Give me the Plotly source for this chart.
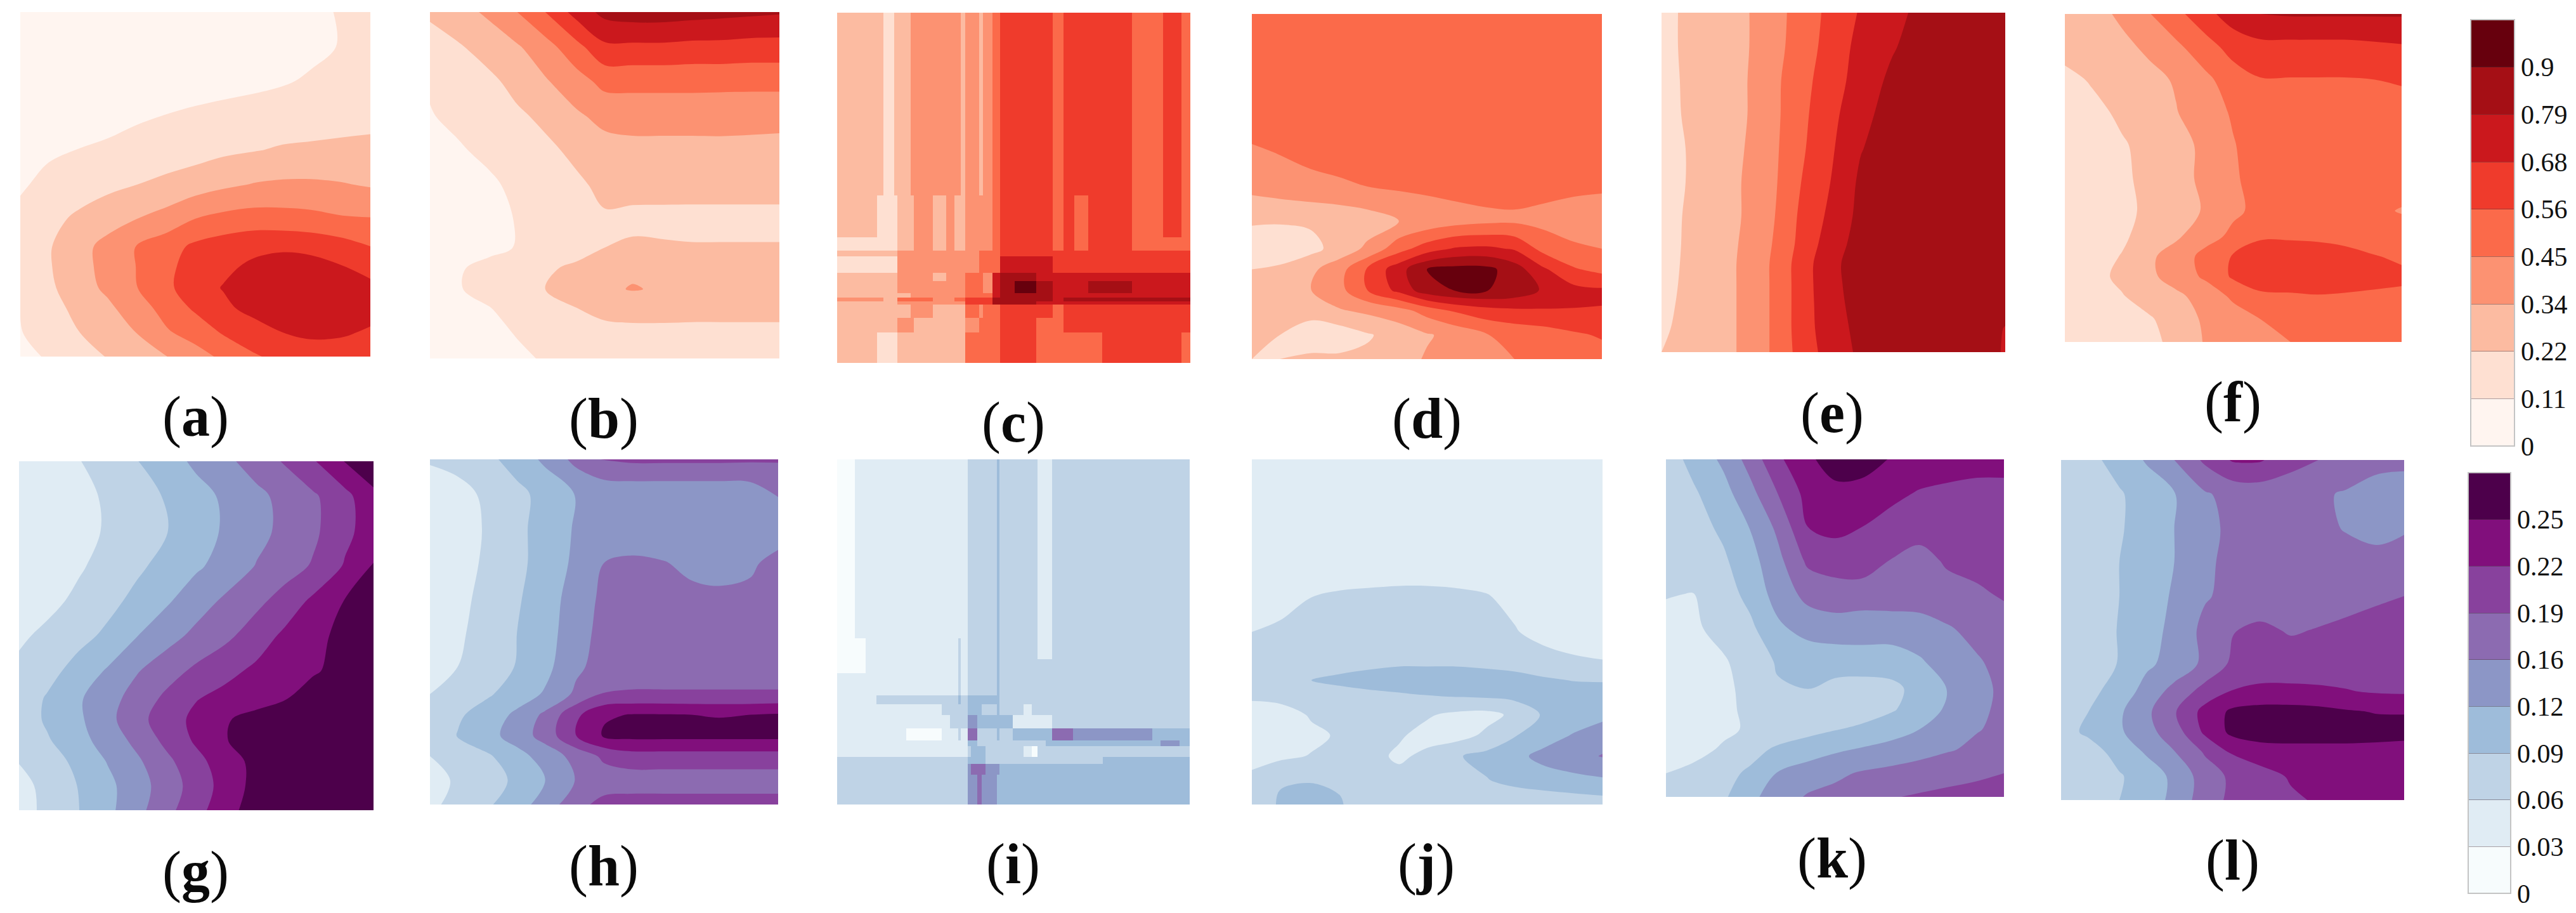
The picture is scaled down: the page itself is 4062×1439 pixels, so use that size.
import numpy as np
import plotly.graph_objects as go

# contour panels are stored in band units (1.0 = one colorbar step)
RED_STEP = 0.1125
BLUE_STEP = 0.03125
RED_COLORS = ['#fff5f0', '#fee0d2', '#fcbba1', '#fc9272', '#fb6a4a', '#ef3b2c', '#cb181d', '#a50f15', '#67000d']
BLUE_COLORS = ['#f7fcfd', '#e0ecf4', '#bfd3e6', '#9ebcda', '#8c96c6', '#8c6bb1', '#88419d', '#810f7c', '#4d004b']
RED_TICKS = ['0', '0.11', '0.22', '0.34', '0.45', '0.56', '0.68', '0.79', '0.9']
BLUE_TICKS = ['0', '0.03', '0.06', '0.09', '0.12', '0.16', '0.19', '0.22', '0.25']

XS = [0, .08, .17, .25, .33, .42, .5, .58, .67, .75, .83, .92, 1]
YS = [0, .1, .2, .3, .4, .5, .6, .68, .74, .8, .86, .93, 1]
YS_J = [0, .1, .2, .3, .4, .5, .6, .64, .68, .74, .8, .86, .93, 1]

PANEL_A = [
    [.3, .3, .3, .3, .3, .35, .4, .45, .5, .6, .75, 1.1, 1.4],
    [.3, .3, .3, .3, .35, .4, .45, .5, .55, .65, .8, 1.05, 1.4],
    [.3, .3, .35, .4, .45, .5, .6, .7, .8, .92, 1.1, 1.3, 1.5],
    [.35, .45, .55, .7, .88, 1.02, 1.15, 1.25, 1.35, 1.45, 1.55, 1.65, 1.7],
    [.7, .88, 1.02, 1.15, 1.3, 1.45, 1.6, 1.8, 1.95, 2.1, 2.15, 2.2, 2.25],
    [.9, 1.2, 1.5, 1.75, 1.98, 2.25, 2.5, 2.8, 3.05, 3.15, 3.15, 3.05, 2.9],
    [1.2, 1.7, 2.2, 2.6, 2.98, 3.4, 4.0, 4.3, 4.45, 4.4, 4.3, 4.1, 4.05],
    [1.3, 1.9, 2.7, 3.3, 4.0, 4.6, 5.2, 5.5, 5.75, 5.8, 5.7, 5.4, 5.0],
    [1.3, 1.9, 2.7, 3.3, 4.0, 4.8, 5.4, 5.8, 6.2, 6.5, 6.4, 6.05, 5.6],
    [1.2, 1.8, 2.6, 3.2, 3.95, 4.8, 5.6, 6.05, 6.5, 6.8, 6.8, 6.6, 6.3],
    [1.0, 1.6, 2.3, 2.8, 3.5, 4.4, 5.15, 5.8, 6.3, 6.5, 6.6, 6.5, 6.3],
    [.95, 1.5, 2.0, 2.5, 3.0, 3.9, 4.4, 5.1, 5.6, 6.0, 6.2, 6.1, 5.9],
    [.7, 1.1, 1.6, 2.05, 2.5, 3.0, 3.6, 4.2, 4.9, 5.3, 5.5, 5.6, 5.5],
]
PANEL_B = [
    [2.2, 2.6, 3.2, 4.0, 5.0, 6.4, 7.3, 7.5, 7.5, 7.4, 7.3, 7.2, 7.1],
    [1.5, 1.9, 2.4, 2.9, 3.6, 4.7, 5.8, 5.8, 5.8, 5.7, 5.7, 5.6, 5.6],
    [1.1, 1.3, 1.8, 2.3, 2.9, 3.6, 4.3, 4.3, 4.3, 4.3, 4.3, 4.3, 4.3],
    [.95, 1.2, 1.6, 1.85, 2.2, 2.85, 3.3, 3.4, 3.4, 3.4, 3.35, 3.3, 3.3],
    [.5, .9, 1.2, 1.5, 1.8, 2.2, 2.6, 2.7, 2.7, 2.7, 2.75, 2.75, 2.7],
    [.3, .5, .85, 1.2, 1.5, 1.85, 2.2, 2.4, 2.45, 2.5, 2.5, 2.5, 2.5],
    [.2, .4, .7, 1.05, 1.3, 1.5, 1.9, 1.7, 1.65, 1.6, 1.6, 1.6, 1.6],
    [.2, .35, .75, 1.05, 1.3, 1.6, 2.0, 2.2, 2.15, 2.1, 2.1, 2.1, 2.1],
    [.6, .9, 1.3, 1.55, 1.85, 2.2, 2.5, 2.85, 2.7, 2.6, 2.6, 2.6, 2.6],
    [.5, .95, 1.25, 1.6, 2.0, 2.4, 2.85, 3.05, 2.9, 2.7, 2.65, 2.6, 2.6],
    [.3, .55, .95, 1.3, 1.6, 1.95, 2.3, 2.4, 2.4, 2.4, 2.4, 2.4, 2.4],
    [.2, .4, .7, 1.05, 1.25, 1.45, 1.6, 1.65, 1.65, 1.6, 1.6, 1.6, 1.6],
    [.1, .3, .5, .8, 1.1, 1.2, 1.3, 1.3, 1.3, 1.3, 1.3, 1.3, 1.3],
]
PANEL_D = [
    [4.6, 4.6, 4.6, 4.6, 4.6, 4.6, 4.6, 4.6, 4.6, 4.6, 4.6, 4.6, 4.6],
    [4.6, 4.6, 4.6, 4.6, 4.6, 4.6, 4.6, 4.6, 4.6, 4.6, 4.6, 4.6, 4.6],
    [4.6, 4.6, 4.6, 4.6, 4.6, 4.6, 4.6, 4.6, 4.6, 4.6, 4.6, 4.6, 4.6],
    [4.5, 4.5, 4.5, 4.5, 4.5, 4.5, 4.5, 4.5, 4.5, 4.5, 4.5, 4.5, 4.5],
    [3.85, 4.05, 4.3, 4.4, 4.5, 4.5, 4.5, 4.5, 4.5, 4.5, 4.5, 4.5, 4.5],
    [3.3, 3.5, 3.7, 3.85, 4.0, 4.15, 4.25, 4.3, 4.3, 4.3, 4.3, 4.25, 4.2],
    [2.1, 2.1, 2.15, 2.25, 2.5, 3.0, 3.3, 3.6, 3.8, 3.85, 3.7, 3.4, 3.2],
    [1.5, 1.3, 1.7, 2.4, 3.2, 4.6, 5.5, 6.1, 6.2, 5.9, 4.7, 4.2, 4.0],
    [2.0, 2.2, 2.8, 3.6, 5.1, 6.6, 8.0, 8.35, 8.3, 7.5, 6.2, 5.1, 4.7],
    [2.2, 2.5, 3.0, 3.7, 5.0, 6.3, 7.6, 8.05, 8.05, 7.7, 6.9, 6.3, 6.15],
    [2.2, 2.2, 2.4, 2.9, 3.2, 3.6, 4.4, 5.1, 5.6, 5.8, 5.9, 5.95, 5.95],
    [2.3, 2.0, 1.4, 1.4, 1.9, 2.4, 2.9, 3.3, 3.95, 4.3, 4.5, 4.85, 5.1],
    [2.0, 2.0, 2.2, 2.2, 2.2, 2.6, 3.1, 3.3, 3.6, 4.0, 4.3, 4.5, 4.6],
]
PANEL_E = [
    [1.7, 2.2, 2.6, 2.95, 3.65, 4.55, 5.35, 6.1, 6.7, 7.2, 7.5, 7.7, 7.8],
    [1.7, 2.2, 2.6, 2.95, 3.7, 4.6, 5.5, 6.3, 6.9, 7.4, 7.6, 7.7, 7.8],
    [1.6, 2.2, 2.6, 3.0, 3.8, 4.8, 5.6, 6.45, 7.2, 7.5, 7.7, 7.8, 7.8],
    [1.5, 2.2, 2.6, 3.0, 3.8, 4.9, 5.8, 6.7, 7.4, 7.6, 7.7, 7.8, 7.8],
    [1.3, 2.1, 2.6, 3.05, 3.85, 5.0, 5.95, 6.95, 7.5, 7.7, 7.8, 7.8, 7.8],
    [1.3, 2.1, 2.65, 3.1, 3.9, 5.2, 6.1, 7.2, 7.5, 7.7, 7.8, 7.8, 7.8],
    [1.4, 2.2, 2.65, 3.1, 4.0, 5.4, 6.3, 7.3, 7.5, 7.7, 7.8, 7.8, 7.8],
    [1.5, 2.2, 2.7, 3.15, 4.1, 5.5, 6.6, 7.4, 7.6, 7.7, 7.8, 7.8, 7.7],
    [1.6, 2.2, 2.7, 3.2, 4.2, 5.7, 6.8, 7.5, 7.6, 7.7, 7.8, 7.8, 7.6],
    [1.7, 2.2, 2.7, 3.2, 4.2, 5.7, 6.8, 7.4, 7.6, 7.7, 7.8, 7.8, 7.5],
    [1.8, 2.2, 2.7, 3.2, 4.2, 5.7, 6.7, 7.4, 7.6, 7.7, 7.8, 7.7, 7.4],
    [1.9, 2.2, 2.7, 3.2, 4.2, 5.7, 6.6, 7.3, 7.6, 7.7, 7.7, 7.6, 6.95],
    [2.0, 2.2, 2.7, 3.2, 4.2, 5.6, 6.5, 7.2, 7.5, 7.6, 7.6, 7.5, 6.9],
]
PANEL_F = [
    [2.2, 2.6, 3.2, 3.95, 4.7, 5.7, 6.5, 7.0, 7.1, 7.1, 7.1, 7.1, 7.1],
    [2.4, 2.5, 2.75, 3.2, 3.8, 4.6, 5.4, 5.7, 5.7, 5.7, 5.7, 5.8, 5.9],
    [1.7, 2.1, 2.3, 2.7, 3.1, 3.8, 4.5, 4.95, 4.95, 4.95, 4.95, 5.0, 5.1],
    [1.4, 1.7, 2.2, 2.5, 2.95, 3.6, 4.1, 4.5, 4.6, 4.6, 4.6, 4.6, 4.6],
    [1.3, 1.5, 1.9, 2.3, 2.7, 3.2, 3.95, 4.4, 4.5, 4.5, 4.5, 4.5, 4.5],
    [1.2, 1.4, 1.8, 2.3, 2.7, 3.2, 3.9, 4.3, 4.3, 4.4, 4.4, 4.4, 4.4],
    [1.2, 1.4, 1.75, 2.2, 2.6, 3.1, 3.85, 4.2, 4.3, 4.3, 4.3, 4.15, 3.95],
    [1.2, 1.5, 1.85, 2.4, 2.85, 3.7, 4.2, 4.9, 4.9, 4.85, 4.75, 4.55, 4.35],
    [1.3, 1.6, 2.05, 2.8, 3.5, 4.3, 5.1, 5.5, 5.5, 5.45, 5.3, 5.05, 4.85],
    [1.4, 1.7, 2.2, 2.8, 3.4, 4.2, 5.15, 5.6, 5.7, 5.6, 5.5, 5.3, 5.2],
    [1.2, 1.5, 1.95, 2.4, 2.8, 3.4, 4.2, 4.8, 4.85, 4.95, 4.9, 4.85, 4.8],
    [1.1, 1.3, 1.5, 1.9, 2.4, 3.2, 3.5, 4.0, 4.4, 4.45, 4.45, 4.45, 4.45],
    [1.1, 1.2, 1.4, 1.7, 2.3, 3.1, 3.4, 3.7, 4.0, 4.2, 4.3, 4.3, 4.3],
]
PANEL_G = [
    [1.3, 1.6, 1.97, 2.4, 2.95, 3.6, 4.2, 4.75, 5.45, 6.1, 6.9, 8.05, 8.6],
    [1.2, 1.4, 1.7, 2.15, 2.6, 3.1, 3.65, 4.15, 4.75, 5.3, 5.85, 6.7, 7.8],
    [1.15, 1.4, 1.7, 2.1, 2.55, 3.0, 3.6, 4.1, 4.7, 5.25, 5.8, 6.75, 7.5],
    [1.25, 1.5, 1.9, 2.3, 2.8, 3.35, 3.85, 4.35, 5.05, 5.55, 6.1, 7.1, 8.05],
    [1.4, 1.75, 2.2, 2.7, 3.25, 3.9, 4.55, 5.15, 5.75, 6.4, 7.2, 8.05, 8.7],
    [1.85, 2.2, 2.7, 3.2, 3.95, 4.65, 5.25, 5.75, 6.5, 7.2, 7.75, 8.25, 8.6],
    [2.2, 2.65, 3.4, 4.1, 4.9, 5.6, 6.2, 6.7, 7.2, 7.55, 7.9, 8.3, 8.6],
    [2.4, 3.1, 3.9, 4.6, 5.4, 6.25, 6.95, 7.3, 7.6, 7.95, 8.4, 8.6, 8.7],
    [2.4, 3.15, 3.85, 4.7, 5.65, 6.55, 7.25, 7.9, 8.35, 8.6, 8.7, 8.7, 8.7],
    [2.2, 2.9, 3.7, 4.4, 5.25, 6.3, 7.15, 7.95, 8.4, 8.6, 8.7, 8.7, 8.7],
    [2.05, 2.5, 3.3, 4.05, 4.8, 5.8, 6.7, 7.5, 8.3, 8.55, 8.7, 8.7, 8.7],
    [1.6, 2.35, 3.05, 3.75, 4.55, 5.5, 6.45, 7.35, 8.35, 8.6, 8.7, 8.7, 8.7],
    [1.5, 2.3, 3.0, 3.75, 4.65, 5.75, 6.65, 7.6, 8.5, 8.7, 8.7, 8.7, 8.7],
]
PANEL_H = [
    [2.1, 2.3, 2.8, 3.4, 4.2, 5.3, 6.1, 6.2, 6.2, 6.2, 6.2, 6.15, 6.1],
    [1.5, 1.7, 2.2, 2.75, 3.3, 4.05, 4.25, 4.3, 4.3, 4.3, 4.3, 4.4, 5.05],
    [1.3, 1.5, 2.15, 2.75, 3.4, 4.1, 4.2, 4.45, 4.3, 4.3, 4.3, 4.3, 4.5],
    [1.4, 1.6, 2.2, 2.75, 3.4, 4.2, 5.0, 5.15, 5.05, 4.8, 4.7, 4.85, 5.3],
    [1.45, 1.75, 2.3, 2.9, 3.45, 4.5, 5.2, 5.3, 5.3, 5.2, 5.15, 5.2, 5.3],
    [1.5, 1.85, 2.4, 3.0, 3.6, 4.55, 5.35, 5.5, 5.5, 5.5, 5.5, 5.5, 5.5],
    [1.6, 2.0, 2.55, 3.05, 3.7, 4.8, 5.4, 5.5, 5.5, 5.5, 5.5, 5.5, 5.5],
    [2.0, 2.35, 2.9, 3.5, 4.1, 5.2, 6.05, 6.1, 6.1, 6.1, 6.1, 6.1, 6.1],
    [2.2, 2.85, 3.5, 4.2, 5.2, 6.8, 7.85, 8.05, 8.05, 8.0, 7.95, 8.0, 8.1],
    [2.4, 3.05, 3.7, 4.45, 5.4, 7.0, 8.15, 8.3, 8.3, 8.3, 8.3, 8.3, 8.3],
    [2.0, 2.4, 2.9, 3.65, 4.4, 5.35, 6.2, 6.6, 6.6, 6.6, 6.6, 6.6, 6.6],
    [1.6, 2.15, 2.6, 3.2, 3.95, 5.05, 5.5, 5.5, 5.5, 5.5, 5.5, 5.5, 5.5],
    [1.8, 2.3, 2.9, 3.6, 4.4, 5.7, 6.3, 6.4, 6.4, 6.4, 6.4, 6.4, 6.4],
]
PANEL_J = [
    [1.5, 1.5, 1.5, 1.5, 1.5, 1.5, 1.5, 1.5, 1.5, 1.5, 1.5, 1.5, 1.5],
    [1.5, 1.5, 1.5, 1.5, 1.5, 1.5, 1.5, 1.5, 1.5, 1.5, 1.5, 1.5, 1.5],
    [1.5, 1.5, 1.5, 1.5, 1.5, 1.5, 1.5, 1.5, 1.5, 1.5, 1.5, 1.5, 1.5],
    [1.6, 1.6, 1.6, 1.6, 1.6, 1.6, 1.6, 1.6, 1.6, 1.6, 1.6, 1.5, 1.5],
    [1.6, 1.8, 2.0, 2.1, 2.15, 2.2, 2.2, 2.15, 2.05, 1.8, 1.6, 1.5, 1.5],
    [2.0, 2.1, 2.3, 2.4, 2.4, 2.4, 2.4, 2.4, 2.3, 2.05, 1.75, 1.6, 1.6],
    [2.5, 2.6, 2.7, 2.75, 2.9, 3.0, 3.0, 3.0, 2.9, 2.7, 2.4, 2.2, 2.1],
    [2.4, 2.7, 3.0, 3.2, 3.3, 3.4, 3.5, 3.5, 3.5, 3.5, 3.2, 2.95, 2.9],
    [2.3, 2.4, 2.6, 2.7, 2.85, 2.95, 3.05, 3.2, 3.3, 3.4, 3.5, 3.6, 3.6],
    [1.4, 1.55, 2.1, 2.4, 2.5, 2.4, 2.1, 1.8, 1.7, 2.2, 3.1, 3.4, 3.7],
    [1.3, 1.4, 1.8, 2.1, 2.4, 2.1, 1.7, 1.6, 2.2, 2.95, 3.5, 4.1, 4.6],
    [1.6, 1.8, 2.05, 2.3, 2.3, 1.85, 2.2, 2.9, 3.3, 3.7, 4.3, 4.7, 5.05],
    [2.3, 2.9, 2.95, 2.85, 2.4, 2.3, 2.3, 2.5, 2.95, 3.3, 3.5, 3.7, 3.85],
    [2.1, 3.15, 3.4, 3.1, 2.4, 2.2, 2.1, 2.1, 2.1, 2.2, 2.3, 2.4, 2.5],
]
PANEL_K = [
    [2.5, 3.3, 4.2, 5.4, 6.8, 7.8, 8.5, 8.5, 7.9, 7.8, 7.7, 7.6, 7.6],
    [2.3, 2.85, 3.65, 4.7, 6.0, 7.35, 7.7, 7.6, 7.3, 6.9, 6.7, 6.5, 6.5],
    [2.2, 2.6, 3.2, 4.05, 5.2, 7.0, 7.3, 7.0, 6.5, 6.35, 6.2, 6.2, 6.2],
    [2.2, 2.5, 2.85, 3.65, 4.7, 6.2, 6.4, 6.5, 5.95, 5.7, 6.1, 6.3, 6.3],
    [2.05, 1.97, 2.55, 3.3, 4.4, 5.3, 5.6, 5.55, 5.6, 5.6, 5.7, 5.85, 6.1],
    [1.7, 1.85, 2.3, 2.8, 3.8, 4.4, 4.5, 4.4, 4.4, 4.5, 4.9, 5.3, 5.6],
    [1.5, 1.6, 1.9, 2.4, 3.1, 3.3, 3.45, 3.6, 3.6, 3.9, 4.35, 4.9, 5.3],
    [1.5, 1.55, 1.85, 2.2, 2.9, 3.0, 2.7, 2.5, 2.7, 3.4, 4.0, 4.7, 5.2],
    [1.5, 1.55, 1.85, 2.15, 2.3, 2.4, 2.5, 2.5, 2.9, 3.5, 4.1, 4.8, 5.2],
    [1.5, 1.55, 1.85, 2.1, 2.3, 2.7, 2.95, 3.2, 3.6, 4.0, 4.5, 4.95, 5.2],
    [1.6, 1.75, 2.1, 2.6, 3.2, 3.5, 3.85, 4.1, 4.35, 4.6, 4.9, 5.2, 5.4],
    [2.0, 2.2, 2.65, 3.2, 4.05, 4.5, 4.8, 5.1, 5.3, 5.5, 5.7, 5.85, 6.0],
    [2.2, 2.5, 2.85, 3.75, 4.5, 5.1, 5.3, 5.6, 5.95, 6.1, 6.2, 6.3, 6.4],
]
PANEL_L = [
    [2.3, 2.7, 3.4, 4.1, 5.0, 6.2, 7.1, 7.1, 6.4, 6.0, 5.7, 5.3, 5.2],
    [2.2, 2.5, 2.9, 3.45, 3.95, 4.9, 5.3, 5.4, 5.3, 5.15, 4.9, 4.6, 4.6],
    [2.2, 2.5, 2.9, 3.45, 4.0, 4.75, 5.2, 5.3, 5.3, 5.2, 4.95, 4.8, 4.95],
    [2.2, 2.5, 3.0, 3.5, 4.0, 4.8, 5.3, 5.4, 5.4, 5.4, 5.3, 5.2, 5.2],
    [2.2, 2.5, 3.0, 3.6, 4.1, 4.9, 5.3, 5.4, 5.5, 5.5, 5.5, 5.8, 6.0],
    [2.2, 2.5, 3.05, 3.7, 4.2, 5.3, 5.95, 6.2, 5.9, 6.05, 6.3, 6.5, 6.5],
    [2.2, 2.5, 3.05, 3.8, 4.4, 5.2, 6.2, 6.5, 6.5, 6.5, 6.5, 6.5, 6.5],
    [2.3, 2.8, 3.3, 4.45, 5.3, 6.4, 7.05, 7.2, 7.2, 7.15, 7.05, 6.9, 6.85],
    [2.5, 3.0, 3.85, 4.8, 5.9, 7.35, 8.2, 8.4, 8.4, 8.3, 8.1, 7.95, 7.95],
    [2.6, 3.2, 3.85, 4.7, 5.5, 7.2, 8.25, 8.5, 8.5, 8.5, 8.5, 8.4, 8.3],
    [2.2, 2.5, 3.4, 4.1, 4.95, 6.1, 7.1, 7.5, 7.6, 7.6, 7.6, 7.6, 7.6],
    [2.1, 2.4, 2.9, 3.5, 4.2, 5.5, 6.2, 6.6, 7.1, 7.2, 7.2, 7.2, 7.2],
    [2.1, 2.4, 3.0, 3.6, 4.2, 5.6, 6.2, 6.5, 6.85, 7.1, 7.2, 7.2, 7.2],
]

# c and i are blocky, kept as cell bands on uneven edges
C_X = [-35, 38, 50, 70, 75, 100, 105, 140, 165, 180, 192, 200, 225, 232, 250, 263, 290, 330, 360, 380, 400, 425, 450, 505, 545, 562, 596, 612]
C_Y = [44, 670, 815, 860, 880, 935, 965, 1005, 1020, 1035, 1045, 1090, 1140, 1245]
PANEL_C = [
    [2, 2, 1, 2, 2, 3, 3, 3, 3, 3, 2, 3, 2, 3, 4, 5, 5, 5, 4, 5, 5, 5, 5, 4, 4, 5, 4],
    [2, 1, 1, 1, 2, 2, 3, 2, 3, 2, 2, 3, 3, 3, 4, 5, 5, 5, 4, 5, 4, 5, 5, 4, 4, 5, 4],
    [1, 1, 1, 1, 2, 2, 3, 2, 3, 2, 2, 3, 3, 3, 4, 5, 5, 5, 4, 5, 4, 5, 5, 4, 4, 4, 4],
    [2, 2, 2, 2, 3, 3, 3, 3, 3, 3, 3, 3, 4, 4, 4, 5, 5, 5, 5, 5, 5, 5, 5, 5, 5, 5, 5],
    [1, 1, 1, 1, 3, 3, 3, 3, 3, 3, 3, 3, 4, 4, 4, 6, 6, 6, 5, 5, 5, 5, 5, 5, 5, 5, 5],
    [2, 2, 2, 2, 3, 3, 3, 2, 3, 3, 3, 4, 4, 3, 6, 7, 7, 6, 6, 6, 6, 6, 6, 6, 6, 6, 6],
    [2, 2, 2, 2, 3, 3, 3, 3, 3, 3, 3, 4, 4, 3, 6, 7, 8, 7, 6, 6, 6, 7, 7, 6, 6, 6, 6],
    [2, 2, 2, 2, 2, 3, 3, 3, 3, 3, 3, 4, 4, 4, 6, 7, 7, 7, 6, 6, 6, 6, 6, 6, 6, 6, 6],
    [3, 3, 2, 2, 4, 4, 4, 3, 3, 4, 4, 5, 5, 5, 7, 7, 7, 7, 6, 7, 7, 7, 7, 7, 7, 7, 7],
    [2, 2, 2, 2, 3, 3, 3, 3, 3, 3, 3, 5, 5, 5, 7, 7, 7, 6, 6, 6, 6, 6, 6, 6, 6, 6, 6],
    [2, 2, 2, 2, 2, 3, 3, 2, 2, 2, 2, 4, 3, 4, 4, 5, 5, 5, 4, 5, 5, 5, 5, 5, 5, 5, 5],
    [2, 2, 2, 2, 3, 3, 2, 2, 2, 2, 2, 3, 4, 4, 4, 5, 5, 4, 4, 5, 5, 5, 5, 5, 5, 5, 5],
    [2, 1, 1, 1, 2, 2, 2, 2, 2, 2, 2, 4, 4, 4, 4, 5, 5, 4, 4, 4, 4, 4, 5, 5, 5, 5, 4],
]
I_X = [23, 55, 75, 95, 120, 150, 215, 230, 245, 250, 262, 268, 280, 288, 295, 316, 320, 345, 365, 380, 390, 405, 417, 455, 510, 560, 600, 615, 650, 669]
I_Y = [51, 650, 720, 765, 840, 870, 905, 950, 990, 1010, 1045, 1070, 1105, 1205]
PANEL_I = [
    [0, 1, 1, 1, 1, 1, 1, 1, 1, 1, 2, 2, 2, 2, 2, 3, 2, 2, 2, 2, 1, 1, 2, 2, 2, 2, 2, 2, 2],
    [0, 0, 1, 1, 1, 1, 1, 1, 2, 1, 2, 2, 2, 2, 2, 3, 2, 2, 2, 2, 1, 1, 2, 2, 2, 2, 2, 2, 2],
    [0, 0, 1, 1, 1, 1, 1, 1, 2, 1, 2, 2, 2, 2, 2, 3, 2, 2, 2, 2, 2, 2, 2, 2, 2, 2, 2, 2, 2],
    [1, 1, 1, 1, 1, 1, 1, 1, 2, 1, 2, 2, 2, 2, 2, 3, 2, 2, 2, 2, 2, 2, 2, 2, 2, 2, 2, 2, 2],
    [1, 1, 1, 2, 2, 2, 2, 2, 3, 2, 3, 3, 3, 3, 3, 3, 2, 2, 2, 2, 2, 2, 2, 2, 2, 2, 2, 2, 2],
    [1, 1, 1, 1, 1, 1, 2, 2, 2, 2, 3, 3, 3, 2, 2, 3, 2, 2, 1, 2, 2, 2, 2, 2, 2, 2, 2, 2, 2],
    [1, 1, 1, 1, 1, 1, 1, 2, 2, 2, 4, 4, 3, 3, 3, 3, 3, 1, 1, 1, 1, 1, 2, 2, 2, 2, 2, 2, 2],
    [1, 1, 1, 1, 1, 0, 1, 1, 2, 1, 5, 5, 2, 2, 2, 3, 2, 3, 3, 3, 3, 3, 5, 4, 4, 4, 3, 3, 3],
    [1, 1, 1, 1, 1, 1, 1, 1, 1, 1, 3, 3, 2, 2, 2, 2, 2, 2, 2, 2, 2, 3, 3, 3, 3, 3, 3, 4, 3],
    [1, 1, 1, 1, 1, 1, 1, 1, 1, 1, 2, 3, 3, 3, 2, 2, 2, 2, 1, 0, 2, 2, 2, 2, 2, 2, 2, 2, 2],
    [2, 2, 2, 2, 2, 2, 2, 2, 2, 2, 3, 3, 3, 3, 2, 2, 2, 2, 2, 2, 2, 2, 2, 2, 3, 3, 3, 3, 3],
    [2, 2, 2, 2, 2, 2, 2, 2, 2, 2, 4, 5, 5, 5, 4, 4, 3, 3, 3, 3, 3, 3, 3, 3, 3, 3, 3, 3, 3],
    [2, 2, 2, 2, 2, 2, 2, 2, 2, 2, 4, 4, 5, 4, 4, 3, 3, 3, 3, 3, 3, 3, 3, 3, 3, 3, 3, 3, 3],
]

PANEL_LABELS = ['a', 'b', 'c', 'd', 'e', 'f', 'g', 'h', 'i', 'j', 'k', 'l']

W = 4062
H = 1439
# pixel boxes of the panels: left, top, right, bottom
boxes = [(32, 19, 584, 562), (678, 19, 1229, 565), (1320, 20, 1877, 572), (1974, 22, 2526, 566),
         (2620, 20, 3162, 555), (3256, 22, 3787, 539), (30, 727, 589, 1277), (678, 724, 1227, 1268),
         (1320, 724, 1876, 1268), (1974, 724, 2527, 1268), (2627, 724, 3160, 1256), (3250, 725, 3791, 1261)]
label_pos = [(308, 657), (952, 660), (1598, 666), (2250, 660), (2889, 651), (3521, 634),
             (308, 1374), (952, 1365), (1597, 1362), (2249, 1362), (2889, 1353), (3520, 1356)]


def stepped(colors):
    n = len(colors)
    scale = []
    for i, c in enumerate(colors):
        scale.append([i / n, c])
        scale.append([(i + 1) / n, c])
    return scale


def contour_panel(z, ys, step, colors):
    return go.Contour(x=XS, y=ys, z=np.array(z) * step, zmin=0, zmax=9 * step, colorscale=stepped(colors),
                      contours=dict(start=step, end=8 * step, size=step, coloring='fill', showlines=False),
                      line=dict(width=0), showscale=False, hoverinfo='skip')


def bar_for(step, ticks, x, top, bottom, thick):
    # inside ticks as long as the bar give the thin lines between the bands
    return dict(x=x / W, xanchor='left', y=1 - top / H, yanchor='top', len=bottom - top, lenmode='pixels',
                thickness=thick, thicknessmode='pixels', xpad=0, ypad=0, outlinecolor='#c4c4c4', outlinewidth=2,
                tickmode='array', tickvals=[i * step for i in range(9)], ticktext=ticks, ticks='inside',
                ticklen=thick, tickwidth=1, tickcolor='rgba(70,50,60,0.45)',
                tickfont=dict(family='Liberation Serif', size=42, color='#111111'))


def block_panel(z, xs, ys, step, colors, bar):
    return go.Heatmap(x=xs, y=ys, z=(np.array(z) + 0.5) * step, zmin=0, zmax=9 * step, colorscale=stepped(colors),
                      showscale=True, colorbar=bar, hoverinfo='skip')


traces = [
    contour_panel(PANEL_A, YS, RED_STEP, RED_COLORS),
    contour_panel(PANEL_B, YS, RED_STEP, RED_COLORS),
    block_panel(PANEL_C, C_X, C_Y, RED_STEP, RED_COLORS, bar_for(RED_STEP, RED_TICKS, 3896, 31, 703, 69)),
    contour_panel(PANEL_D, YS, RED_STEP, RED_COLORS),
    contour_panel(PANEL_E, YS, RED_STEP, RED_COLORS),
    contour_panel(PANEL_F, YS, RED_STEP, RED_COLORS),
    contour_panel(PANEL_G, YS, BLUE_STEP, BLUE_COLORS),
    contour_panel(PANEL_H, YS, BLUE_STEP, BLUE_COLORS),
    block_panel(PANEL_I, I_X, I_Y, BLUE_STEP, BLUE_COLORS, bar_for(BLUE_STEP, BLUE_TICKS, 3892, 745, 1408, 67)),
    contour_panel(PANEL_J, YS_J, BLUE_STEP, BLUE_COLORS),
    contour_panel(PANEL_K, YS, BLUE_STEP, BLUE_COLORS),
    contour_panel(PANEL_L, YS, BLUE_STEP, BLUE_COLORS),
]

fig = go.Figure()
annotations = []
for i, tr in enumerate(traces):
    n = i + 1
    l, t, r, b = boxes[i]
    tr.xaxis = 'x%d' % n
    tr.yaxis = 'y%d' % n
    fig.add_trace(tr)
    xs = list(tr.x)
    ys = list(tr.y)
    fig.layout['xaxis%d' % n] = dict(domain=[l / W, r / W], range=[xs[0], xs[-1]], visible=False, anchor='y%d' % n)
    fig.layout['yaxis%d' % n] = dict(domain=[1 - b / H, 1 - t / H], range=[ys[-1], ys[0]], visible=False, anchor='x%d' % n)
    lx, ly = label_pos[i]
    annotations.append(dict(x=lx / W, y=1 - ly / H, xref='paper', yref='paper', xanchor='center', yanchor='middle',
                            showarrow=False, text='(<b>%s</b>)' % PANEL_LABELS[i],
                            font=dict(family='Liberation Serif', size=90, color='#0a0a0a')))

fig.update_layout(width=W, height=H, autosize=False, margin=dict(l=0, r=0, t=0, b=0, autoexpand=False),
                  paper_bgcolor='white', plot_bgcolor='white', showlegend=False, annotations=annotations)
fig.write_html("out.html", config={'displayModeBar': False},
               post_script="document.body.style.margin='0';document.body.style.overflow='hidden';")
